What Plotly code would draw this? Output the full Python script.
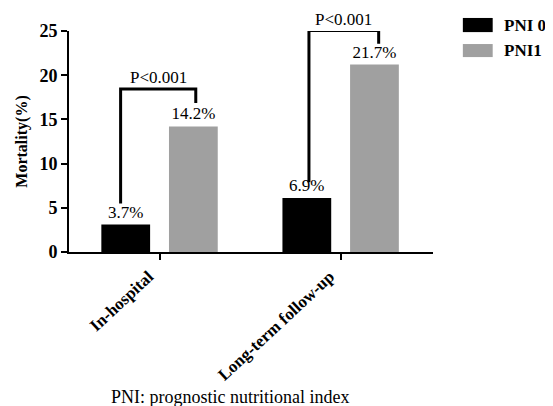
import plotly.graph_objects as go

categories = ["In-hospital", "Long-term follow-up"]
series_names = ["PNI 0", "PNI1"]
series_colors = ["#000000", "#a0a0a0"]
# bar heights as drawn in the picture
pni0_values = [3.1, 6.1]
pni1_values = [14.2, 21.2]
# printed labels
pni0_labels = ["3.7%", "6.9%"]
pni1_labels = ["14.2%", "21.7%"]
# significance brackets
p_texts = ["P<0.001", "P<0.001"]
bracket_left_bottom = [5.5, 7.9]
bracket_top = [18.45, 25.05]
bracket_right_bottom = [16.85, 23.55]
bracket_left_dx = [-0.215, -0.175]
bracket_right_dx = [0.2, 0.21]

Y_MAX = 25
FONT = "Liberation Serif"
xs = list(range(len(categories)))

fig = go.Figure()
for vals, labels, name, color in [
    (pni0_values, pni0_labels, series_names[0], series_colors[0]),
    (pni1_values, pni1_labels, series_names[1], series_colors[1]),
]:
    fig.add_trace(go.Bar(
        x=xs, y=vals, name=name, marker=dict(color=color, line=dict(width=0)),
        text=labels, textposition="outside", cliponaxis=False,
        textfont=dict(family=FONT, size=17, color="black"),
        showlegend=False,
    ))

for i, g in enumerate(xs):
    fig.add_trace(go.Scatter(
        x=[g + bracket_left_dx[i], g + bracket_left_dx[i], g + bracket_right_dx[i], g + bracket_right_dx[i]],
        y=[bracket_left_bottom[i], bracket_top[i], bracket_top[i], bracket_right_bottom[i]],
        mode="lines", line=dict(color="black", width=3), cliponaxis=False,
        showlegend=False, hoverinfo="skip",
    ))
    fig.add_annotation(
        x=g + (bracket_left_dx[i] + bracket_right_dx[i]) / 2, y=bracket_top[i] / Y_MAX,
        xref="x", yref="paper", text=p_texts[i], showarrow=False,
        yanchor="bottom", yshift=0,
        font=dict(family=FONT, size=17, color="black"),
    )

# custom legend
legend_y = [(1.059, 0.995), (0.941, 0.882)]
legend_text_y = [1.027, 0.911]
for i in range(len(series_names)):
    fig.add_shape(type="rect", xref="paper", yref="paper",
                  x0=1.082, x1=1.164, y0=legend_y[i][1], y1=legend_y[i][0],
                  fillcolor=series_colors[i], line=dict(width=0))
    fig.add_annotation(x=1.19, y=legend_text_y[i], xref="paper", yref="paper",
                       text=series_names[i], showarrow=False, xanchor="left",
                       yanchor="middle",
                       font=dict(family=FONT, size=17, color="black", weight="bold"))

fig.add_annotation(x=0.443, y=-0.655, xref="paper", yref="paper",
                   text="PNI: prognostic nutritional index", showarrow=False,
                   xanchor="center", yanchor="middle",
                   font=dict(family=FONT, size=18, color="black"))

fig.update_layout(
    width=545, height=398, autosize=False,
    margin=dict(l=59, r=120, t=23, b=154, pad=0),
    plot_bgcolor="white", paper_bgcolor="white",
    barmode="group", bargap=0.253, bargroupgap=0.279,
    font=dict(family=FONT, color="black"),
)
fig.update_xaxes(
    range=[-0.5, 1.51], tickvals=xs, ticktext=categories,
    showline=True, linewidth=2, linecolor="black",
    ticks="outside", ticklen=6, tickwidth=2, tickcolor="black",
    tickangle=-43, showgrid=False, zeroline=False, ticklabelshift=-11,
    tickfont=dict(family=FONT, size=17, color="black", weight="bold"),
)
fig.update_yaxes(
    range=[0, Y_MAX], dtick=5,
    showline=True, linewidth=2, linecolor="black",
    ticks="outside", ticklen=6, tickwidth=2, tickcolor="black",
    showgrid=False, zeroline=False,
    tickfont=dict(family=FONT, size=18, color="black", weight="bold"),
    title=dict(text="Mortality(%)", standoff=8,
               font=dict(family=FONT, size=16, color="black", weight="bold")),
)

fig.write_html("out.html")
